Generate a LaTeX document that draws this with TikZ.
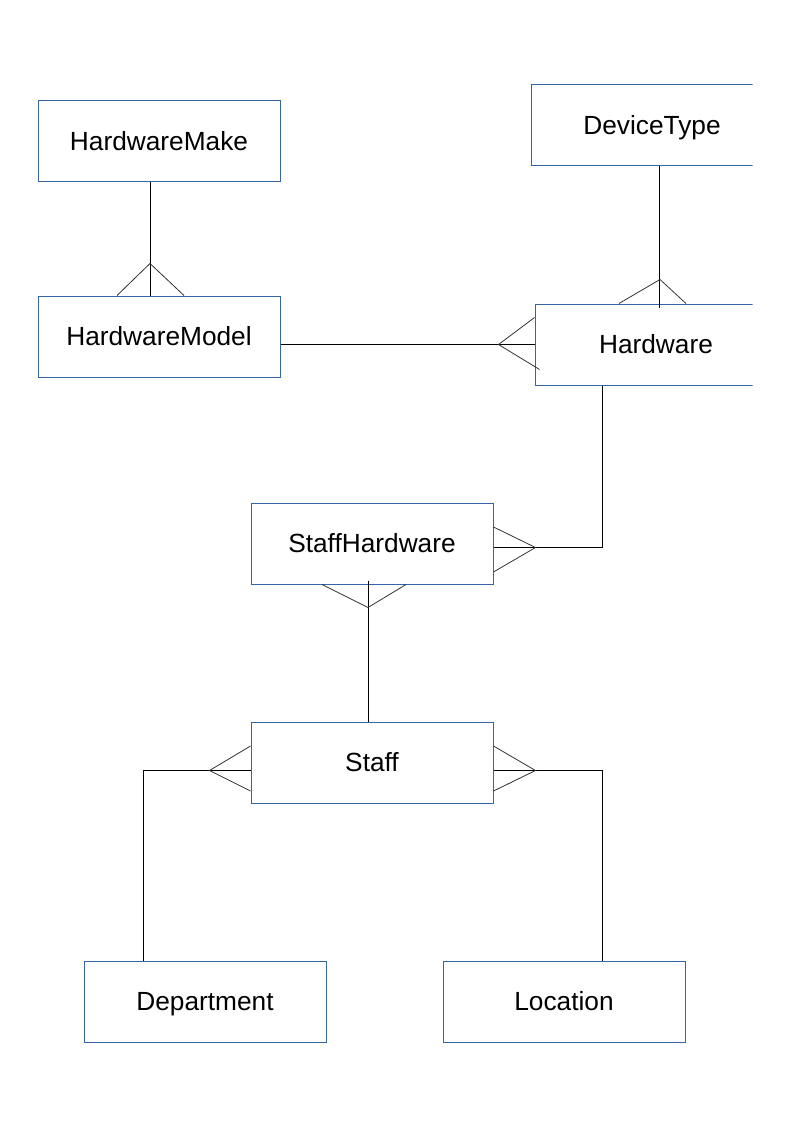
\documentclass[tikz,border=0pt]{standalone}
\usepackage{fontspec}
\setmainfont{Liberation Sans}
\usetikzlibrary{calc}
\definecolor{boxblue}{RGB}{52,101,164}
\begin{document}
\begin{tikzpicture}[x=0.75pt,y=-0.75pt,
 entity/.style={draw=boxblue,line width=0.75pt,minimum width=181.5pt,minimum height=60.75pt,inner sep=0pt,text height=14.1pt,text depth=0pt,font=\fontsize{19.7}{23}\selectfont},
 rel/.style={line width=0.75pt,black},
 crow/.style={line width=0.6pt,black!80}]
\useasboundingbox (0,0) rectangle (794,1123);
\begin{scope}
\clip (0,0) rectangle (752.5,1123);
\node[entity] (make) at (159,141.5) {HardwareMake};
\node[entity] (model) at (159,336.5) {HardwareModel};
\node[entity] (dev) at (652,125.5) {DeviceType};
\node[entity] (hw) at (656,344.5) {Hardware};
\node[entity] (sh) at (372,543.5) {StaffHardware};
\node[entity] (staff) at (372,762.5) {Staff};
\node[entity] (dept) at (205,1001.5) {Department};
\node[entity] (loc) at (564,1001.5) {Location};

% HardwareMake -- HardwareModel
\draw[rel] ($(make.south)+(-9,0)$) -- ($(model.north)+(-9,0)$);
\draw[crow] ($(model.north)+(-42,0)$) -- ($(model.north)+(-9,-32)$) -- ($(model.north)+(25,0)$);

% DeviceType -- Hardware
\draw[rel] ($(dev.south)+(7,0)$) -- ($(hw.north)+(3,4)$);
\draw[crow] ($(hw.north)+(-37,0)$) -- ($(hw.north)+(4,-24)$) -- ($(hw.north)+(30,0)$);

% HardwareModel -- Hardware
\draw[rel] (model.east |- hw.west) -- (hw.west);
\draw[crow] ($(hw.west)+(0,-27)$) -- ($(hw.west)+(-36,0)$) -- ($(hw.west)+(5,25)$);

% Hardware -- StaffHardware
\draw[rel] ($(hw.south)+(-54,0)$) |- ($(sh.east)+(0,4)$);
\draw[crow] ($(sh.east)+(0,-16.5)$) -- ($(sh.east)+(42,4)$) -- ($(sh.east)+(0,28.5)$);

% StaffHardware -- Staff
\draw[rel] ($(sh.south)+(-4,-4)$) -- ($(staff.north)+(-4,0)$);
\draw[crow] ($(sh.south)+(-50,0)$) -- ($(sh.south)+(-4,23)$) -- ($(sh.south)+(34,0)$);

% Staff -- Department
\draw[rel] ($(staff.west)+(0,8)$) -| ($(dept.north)+(-62,0)$);
\draw[crow] ($(staff.west)+(0,-16.5)$) -- ($(staff.west)+(-41,8)$) -- ($(staff.west)+(0,28.5)$);

% Staff -- Location
\draw[rel] ($(staff.east)+(0,8)$) -| ($(loc.north)+(38,0)$);
\draw[crow] ($(staff.east)+(0,-16.5)$) -- ($(staff.east)+(42,8)$) -- ($(staff.east)+(0,28.5)$);
\end{scope}
\end{tikzpicture}
\end{document}
